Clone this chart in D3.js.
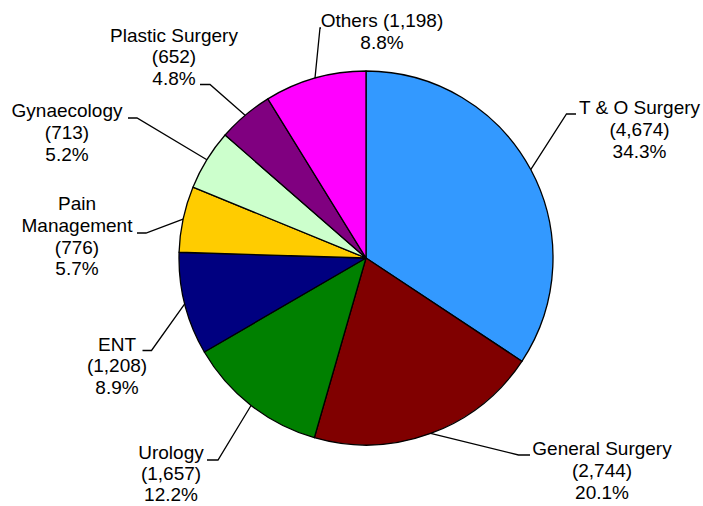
<!DOCTYPE html>
<html>
<head>
<meta charset="utf-8">
<script src="https://cdn.jsdelivr.net/npm/d3@7"></script>
<style>
  body { margin: 0; background: #fff; }
  svg text { font-family: "Liberation Sans", Arial, sans-serif; font-size: 19px; fill: #000; }
</style>
</head>
<body>
<div id="chart"></div>
<script>
// slices, clockwise from 12 o'clock
var categories = ['T & O Surgery', 'General Surgery', 'Urology', 'ENT',
  'Pain Management', 'Gynaecology', 'Plastic Surgery', 'Others'];
var counts = [4674, 2744, 1657, 1208, 776, 713, 652, 1198];
var colors = ['#3399FF', '#800000', '#008000', '#000080',
  '#FFCC00', '#CCFFCC', '#800080', '#FF00FF'];

// how each label is laid out: name lines, label centre, leader elbow + end
var labelLayout = [
  { name: ['T & O Surgery'], x: 639.5, y: 114, elbow: [566.5, 114], end: [576, 114] },
  { name: ['General Surgery'], x: 602, y: 455, elbow: [518.5, 455], end: [530, 455] },
  { name: ['Urology'], x: 171, y: 459, lh: 21, elbow: [218, 460], end: [207, 460] },
  { name: ['ENT'], x: 117, y: 350.5, elbow: [151.5, 350.5], end: [142.5, 350.5] },
  { name: ['Pain', 'Management'], x: 77, y: 210, elbow: [146, 233], end: [137, 233] },
  { name: ['Gynaecology'], x: 67, y: 117, elbow: [137, 118], end: [128, 118] },
  { name: ['Plastic Surgery'], x: 174, y: 41.5, elbow: [210, 84.5], end: [200, 84.5] },
  { name: ['Others'], x: 382, y: 27.3, inline: true, elbow: [320, 28], end: [321, 28] }
];

var width = 703, height = 506;
var cx = 366, cy = 258, radius = 187;
var lineH = 21.8;

var svg = d3.select('#chart').append('svg')
  .attr('width', width)
  .attr('height', height);

var total = d3.sum(counts);
var fmtCount = d3.format(',');
var fmtPct = d3.format('.1%');

var slices = categories.map(function(c, i) {
  return { name: c, value: counts[i], color: colors[i], layout: labelLayout[i] };
});

var pie = d3.pie()
  .value(function(d) { return d.value; })
  .sort(null);

var arc = d3.arc().innerRadius(0).outerRadius(radius);

var arcs = pie(slices);

var g = svg.append('g').attr('transform', 'translate(' + cx + ',' + cy + ')');

g.selectAll('path.slice')
  .data(arcs)
  .enter()
  .append('path')
  .attr('class', 'slice')
  .attr('d', arc)
  .attr('fill', function(d) { return d.data.color; })
  .attr('stroke', '#000')
  .attr('stroke-width', 1.3)
  .attr('stroke-linejoin', 'round');

// leader lines: from the rim at the slice's middle angle out to the label
svg.selectAll('polyline.leader')
  .data(arcs)
  .enter()
  .append('polyline')
  .attr('class', 'leader')
  .attr('fill', 'none')
  .attr('stroke', '#000')
  .attr('stroke-width', 1.3)
  .attr('points', function(d) {
    var mid = (d.startAngle + d.endAngle) / 2;
    var p = [cx + radius * Math.sin(mid), cy - radius * Math.cos(mid)];
    var L = d.data.layout;
    return [p, L.elbow, L.end].map(function(q) { return q.join(','); }).join(' ');
  });

// labels
arcs.forEach(function(d) {
  var L = d.data.layout;
  var lh = L.lh || lineH;
  var lines;
  if (L.inline) {
    lines = [L.name[0] + ' (' + fmtCount(d.value) + ')', fmtPct(d.value / total)];
  } else {
    lines = L.name.concat(['(' + fmtCount(d.value) + ')', fmtPct(d.value / total)]);
  }
  var t = svg.append('text')
    .attr('text-anchor', 'middle');
  lines.forEach(function(s, i) {
    t.append('tspan')
      .attr('x', L.x)
      .attr('y', L.y + i * lh)
      .text(s);
  });
});
</script>
</body>
</html>
